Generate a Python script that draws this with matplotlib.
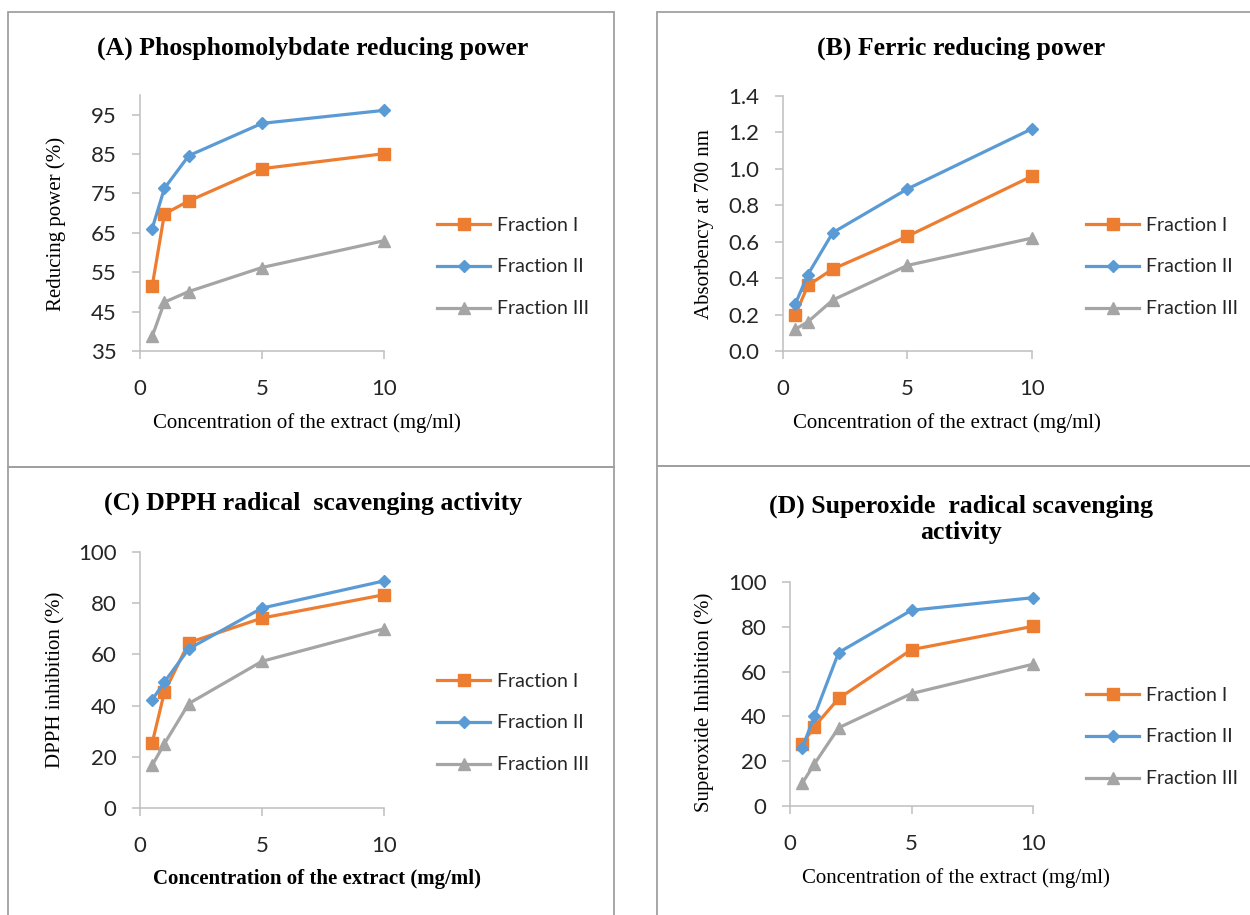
import matplotlib
matplotlib.use("Agg")
import matplotlib.pyplot as plt
from matplotlib.patches import Rectangle

W, H = 1250, 915

# ── data ────────────────────────────────────────────────────────────────
conc = [0.5, 1, 2, 5, 10]
series_names = ["Fraction I", "Fraction II", "Fraction III"]

a_frac1 = [51.5, 69.8, 73.1, 81.3, 85.1]
a_frac2 = [66.1, 76.3, 84.6, 92.8, 96.1]
a_frac3 = [38.7, 47.4, 50.1, 56.2, 63.0]

b_frac1 = [0.20, 0.36, 0.45, 0.63, 0.96]
b_frac2 = [0.26, 0.42, 0.65, 0.89, 1.22]
b_frac3 = [0.12, 0.16, 0.28, 0.47, 0.62]

c_frac1 = [25.4, 45.3, 64.6, 74.2, 83.3]
c_frac2 = [42.3, 49.2, 62.2, 78.1, 88.7]
c_frac3 = [16.7, 25.1, 40.8, 57.3, 70.0]

d_frac1 = [27.5, 35.4, 48.0, 69.8, 80.2]
d_frac2 = [25.7, 40.1, 68.5, 87.4, 93.0]
d_frac3 = [10.1, 18.7, 34.9, 50.2, 63.3]

titles = ["(A) Phosphomolybdate reducing power",
          "(B) Ferric reducing power",
          "(C) DPPH radical  scavenging activity",
          "(D) Superoxide  radical scavenging\nactivity"]
ylabels = ["Reducing power (%)", "Absorbency at 700 nm",
           "DPPH inhibition (%)", "Superoxide Inhibition (%)"]
xlabel = "Concentration of the extract (mg/ml)"

colors = ["#ED7D31", "#5B9BD5", "#A5A5A5"]
markers = ["s", "D", "^"]
msizes = [8, 6, 8]

SANS = "Lato"
SERIF = "Liberation Serif"
GRID = "#BFBFBF"
TXT = "#262626"


def fx(x):
    return x / W


def fy(y):
    return 1 - y / H


fig = plt.figure(figsize=(12.5, 9.15), dpi=100)

# panel borders
for (x0, y0, x1, y1) in [(8, 12, 614, 467), (657, 12, 1262, 466),
                         (8, 467, 614, 930), (657, 466, 1262, 930)]:
    fig.add_artist(Rectangle((fx(x0), fy(y1)), fx(x1 - x0), (y1 - y0) / H,
                             transform=fig.transFigure, fill=False,
                             edgecolor="#A0A0A0", lw=1.3, clip_on=False))

# (left, right, top, bottom) px of each plot area
boxes = [(140, 384, 95, 351), (783, 1032, 96, 351),
         (140, 384, 552, 808), (790, 1033, 582, 806)]
data = [(a_frac1, a_frac2, a_frac3), (b_frac1, b_frac2, b_frac3),
        (c_frac1, c_frac2, c_frac3), (d_frac1, d_frac2, d_frac3)]
ylims = [(35, 100), (0, 1.4), (0, 100), (0, 100)]
yticks = [list(range(35, 100, 10)), [i * 0.2 for i in range(8)],
          list(range(0, 101, 20)), list(range(0, 101, 20))]

title_pos = [(313, 48), (961, 48), (313, 503), (961, 519)]
xlab_pos = [(307, 423), (947, 423), (317, 879), (956, 878)]
ylab_pos = [(56, 224), (704, 224), (56, 680), (704, 702)]
leg_pos = [(437, 267), (1086, 267), (437, 723), (1086, 737)]

for i in range(4):
    l, r, t, b = boxes[i]
    ax = fig.add_axes([fx(l), fy(b), fx(r - l), (b - t) / H])
    for vals, name, c, m, ms in zip(data[i], series_names, colors, markers, msizes):
        ax.plot(conc, vals, color=c, lw=2.3, marker=m, ms=ms, label=name,
                clip_on=False)
    ax.set_xlim(0, 10)
    ax.set_ylim(*ylims[i])
    ax.set_xticks([0, 5, 10])
    ax.set_yticks(yticks[i])
    if i == 1:
        ax.set_yticklabels([f"{v:.1f}" for v in yticks[i]])
    for s in ["top", "right"]:
        ax.spines[s].set_visible(False)
    for s in ["left", "bottom"]:
        ax.spines[s].set_color(GRID)
        ax.spines[s].set_linewidth(1.1)
    ax.tick_params(axis="both", colors=GRID, length=6, width=1.1,
                   labelcolor=TXT, labelsize=16)
    ax.tick_params(axis="x", pad=14)
    ax.tick_params(axis="y", pad=11)
    for lab in ax.get_xticklabels() + ax.get_yticklabels():
        lab.set_fontfamily(SANS)

    leg = ax.legend(loc="center left",
                    bbox_to_anchor=(fx(leg_pos[i][0]), fy(leg_pos[i][1])),
                    bbox_transform=fig.transFigure, frameon=False,
                    borderpad=0, borderaxespad=0, handlelength=2.75,
                    handletextpad=0.35, labelspacing=1.28,
                    prop={"family": SANS, "size": 14})
    for txt in leg.get_texts():
        txt.set_color(TXT)

    fig.text(fx(title_pos[i][0]), fy(title_pos[i][1]), titles[i],
             ha="center", va="center", family=SERIF, weight="bold",
             fontsize=18.5, color="black", linespacing=1.15)
    fig.text(fx(xlab_pos[i][0]), fy(xlab_pos[i][1]), xlabel,
             ha="center", va="center", family=SERIF, fontsize=15,
             color="black", weight="bold" if i == 2 else "normal")
    fig.text(fx(ylab_pos[i][0]), fy(ylab_pos[i][1]), ylabels[i],
             ha="center", va="center", rotation=90, family=SERIF,
             fontsize=15, color="black")

fig.savefig("out.png", dpi=100)
